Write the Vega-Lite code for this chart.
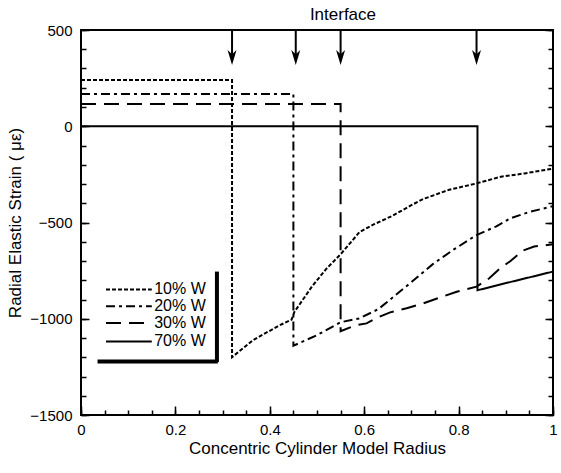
{
  "$schema": "https://vega.github.io/schema/vega-lite/v6.json",
  "width": 472,
  "height": 385,
  "autosize": {"type": "none"},
  "padding": {"left": 81, "top": 30, "right": 8, "bottom": 58},
  "background": "white",
  "config": {
    "view": {"stroke": "#000", "strokeWidth": 2},
    "font": "Liberation Sans",
    "axis": {
      "labelFont": "Liberation Sans", "titleFont": "Liberation Sans",
      "labelFontSize": 15, "titleFontSize": 17, "titleFontWeight": "normal",
      "labelColor": "#000", "titleColor": "#000",
      "domain": false, "grid": false, "labelFlush": false
    }
  },
  "datasets": {
    "curves": [
      {"s": "10% W", "i": 0, "x": 0, "y": 240},
      {"s": "10% W", "i": 1, "x": 0.32, "y": 240},
      {"s": "10% W", "i": 2, "x": 0.32, "y": -1200},
      {"s": "10% W", "i": 3, "x": 0.365, "y": -1110},
      {"s": "10% W", "i": 4, "x": 0.42, "y": -1035},
      {"s": "10% W", "i": 5, "x": 0.446, "y": -1005},
      {"s": "10% W", "i": 6, "x": 0.452, "y": -965},
      {"s": "10% W", "i": 7, "x": 0.49, "y": -830},
      {"s": "10% W", "i": 8, "x": 0.52, "y": -740},
      {"s": "10% W", "i": 9, "x": 0.55, "y": -665},
      {"s": "10% W", "i": 10, "x": 0.59, "y": -550},
      {"s": "10% W", "i": 11, "x": 0.62, "y": -510},
      {"s": "10% W", "i": 12, "x": 0.66, "y": -465},
      {"s": "10% W", "i": 13, "x": 0.7, "y": -410},
      {"s": "10% W", "i": 14, "x": 0.725, "y": -378},
      {"s": "10% W", "i": 15, "x": 0.78, "y": -330},
      {"s": "10% W", "i": 16, "x": 0.838, "y": -297},
      {"s": "10% W", "i": 17, "x": 0.89, "y": -262},
      {"s": "10% W", "i": 18, "x": 0.94, "y": -245},
      {"s": "10% W", "i": 19, "x": 1.0, "y": -220},
      {"s": "20% W", "i": 0, "x": 0, "y": 168},
      {"s": "20% W", "i": 1, "x": 0.45, "y": 168},
      {"s": "20% W", "i": 2, "x": 0.45, "y": -1140},
      {"s": "20% W", "i": 3, "x": 0.5, "y": -1085},
      {"s": "20% W", "i": 4, "x": 0.55, "y": -1018},
      {"s": "20% W", "i": 5, "x": 0.59, "y": -998},
      {"s": "20% W", "i": 6, "x": 0.63, "y": -950},
      {"s": "20% W", "i": 7, "x": 0.655, "y": -900},
      {"s": "20% W", "i": 8, "x": 0.7, "y": -810},
      {"s": "20% W", "i": 9, "x": 0.746, "y": -715},
      {"s": "20% W", "i": 10, "x": 0.79, "y": -640},
      {"s": "20% W", "i": 11, "x": 0.838, "y": -565},
      {"s": "20% W", "i": 12, "x": 0.88, "y": -520},
      {"s": "20% W", "i": 13, "x": 0.91, "y": -478},
      {"s": "20% W", "i": 14, "x": 0.95, "y": -445},
      {"s": "20% W", "i": 15, "x": 1.0, "y": -415},
      {"s": "30% W", "i": 0, "x": 0, "y": 116},
      {"s": "30% W", "i": 1, "x": 0.55, "y": 116},
      {"s": "30% W", "i": 2, "x": 0.55, "y": -1065},
      {"s": "30% W", "i": 3, "x": 0.58, "y": -1035},
      {"s": "30% W", "i": 4, "x": 0.605, "y": -1024},
      {"s": "30% W", "i": 5, "x": 0.627, "y": -995},
      {"s": "30% W", "i": 6, "x": 0.655, "y": -967},
      {"s": "30% W", "i": 7, "x": 0.69, "y": -945},
      {"s": "30% W", "i": 8, "x": 0.725, "y": -920},
      {"s": "30% W", "i": 9, "x": 0.76, "y": -890},
      {"s": "30% W", "i": 10, "x": 0.796, "y": -860},
      {"s": "30% W", "i": 11, "x": 0.838, "y": -833},
      {"s": "30% W", "i": 12, "x": 0.865, "y": -790},
      {"s": "30% W", "i": 13, "x": 0.888, "y": -738},
      {"s": "30% W", "i": 14, "x": 0.91, "y": -700},
      {"s": "30% W", "i": 15, "x": 0.937, "y": -645},
      {"s": "30% W", "i": 16, "x": 0.96, "y": -625},
      {"s": "30% W", "i": 17, "x": 1.0, "y": -613},
      {"s": "70% W", "i": 0, "x": 0, "y": 0},
      {"s": "70% W", "i": 1, "x": 0.84, "y": 0},
      {"s": "70% W", "i": 2, "x": 0.84, "y": -852},
      {"s": "70% W", "i": 3, "x": 0.9, "y": -815},
      {"s": "70% W", "i": 4, "x": 0.95, "y": -785},
      {"s": "70% W", "i": 5, "x": 1.0, "y": -755}
    ],
    "legend": [
      {"s": "10% W", "x1": 0.053, "x2": 0.15, "xt": 0.155, "y": -848},
      {"s": "20% W", "x1": 0.053, "x2": 0.15, "xt": 0.155, "y": -935},
      {"s": "30% W", "x1": 0.053, "x2": 0.15, "xt": 0.155, "y": -1022},
      {"s": "70% W", "x1": 0.053, "x2": 0.15, "xt": 0.155, "y": -1118}
    ],
    "arrows": [
      {"x": 0.32, "top": 500, "bot": 365, "head": 357},
      {"x": 0.455, "top": 500, "bot": 365, "head": 357},
      {"x": 0.55, "top": 500, "bot": 365, "head": 357},
      {"x": 0.838, "top": 500, "bot": 365, "head": 357}
    ],
    "shadow": [
      {"x": 0.288, "x2": 0.288, "y": -755, "y2": -1225},
      {"x": 0.035, "x2": 0.29, "y": -1222, "y2": -1222}
    ],
    "label": [
      {"x": 0.555, "y": 500, "t": "Interface"}
    ]
  },
  "resolve": {"scale": {"x": "independent", "y": "independent"}, "axis": {"x": "independent", "y": "independent"}},
  "layer": [
    {
      "data": {"name": "curves"},
      "mark": {"type": "line", "strokeWidth": 2, "color": "#000", "strokeCap": "butt"},
      "encoding": {
        "x": {"field": "x", "type": "quantitative", "scale": {"domain": [0, 1], "nice": false, "zero": false},
          "axis": {"orient": "bottom", "values": [0, 0.2, 0.4, 0.6, 0.8, 1], "format": "~g",
            "ticks": false, "tickSize": 0, "labelPadding": 7, "title": "Concentric Cylinder Model Radius", "titlePadding": 3}},
        "y": {"field": "y", "type": "quantitative", "scale": {"domain": [-1500, 500], "nice": false, "zero": false},
          "axis": {"orient": "left", "values": [-1500, -1000, -500, 0, 500], "format": "d",
            "ticks": false, "tickSize": 0, "labelPadding": 9, "title": "Radial Elastic Strain ( με)", "titlePadding": 5}},
        "strokeDash": {"field": "s", "type": "nominal", "legend": null,
          "scale": {"domain": ["10% W", "20% W", "30% W", "70% W"], "range": [[4, 2], [9, 4, 3, 4], [15, 8], [1, 0]]}},
        "order": {"field": "i", "type": "quantitative"}
      }
    },
    {
      "data": {"name": "legend"},
      "mark": {"type": "rule", "strokeWidth": 2, "color": "#000", "strokeCap": "butt"},
      "encoding": {
        "x": {"field": "x1", "type": "quantitative", "scale": {"domain": [0, 1], "nice": false, "zero": false},
          "axis": {"orient": "bottom", "offset": -5, "values": [0, 0.05, 0.1, 0.15, 0.2, 0.25, 0.3, 0.35, 0.4, 0.45, 0.5, 0.55, 0.6, 0.65, 0.7, 0.75, 0.8, 0.85, 0.9, 0.95, 1],
            "labels": false, "ticks": true, "tickColor": "#000", "tickWidth": 1.5, "tickOpacity": 1, "tickSize": 5, "title": null}},
        "x2": {"field": "x2"},
        "y": {"field": "y", "type": "quantitative", "scale": {"domain": [-1500, 500], "nice": false, "zero": false},
          "axis": {"orient": "left", "offset": -5, "values": [-1500, -1400, -1300, -1200, -1100, -1000, -900, -800, -700, -600, -500, -400, -300, -200, -100, 0, 100, 200, 300, 400, 500],
            "labels": false, "ticks": true, "tickColor": "#000", "tickWidth": 1.5, "tickOpacity": 1, "tickSize": 5, "title": null}},
        "strokeDash": {"field": "s", "type": "nominal", "legend": null}
      }
    },
    {
      "data": {"name": "legend"},
      "mark": {"type": "text", "align": "left", "baseline": "middle", "fontSize": 16, "font": "Liberation Sans", "color": "#000"},
      "encoding": {
        "x": {"field": "xt", "type": "quantitative", "scale": {"domain": [0, 1], "nice": false, "zero": false},
          "axis": {"orient": "bottom", "offset": -9, "values": [0, 0.2, 0.4, 0.6, 0.8, 1],
            "labels": false, "ticks": true, "tickColor": "#000", "tickWidth": 1.5, "tickOpacity": 1, "tickSize": 9, "title": null}},
        "y": {"field": "y", "type": "quantitative", "scale": {"domain": [-1500, 500], "nice": false, "zero": false},
          "axis": {"orient": "left", "offset": -8, "values": [-1500, -1000, -500, 0, 500],
            "labels": false, "ticks": true, "tickColor": "#000", "tickWidth": 1.5, "tickOpacity": 1, "tickSize": 8, "title": null}},
        "text": {"field": "s"}
      }
    },
    {
      "data": {"name": "arrows"},
      "mark": {"type": "rule", "strokeWidth": 2, "color": "#000"},
      "encoding": {
        "x": {"field": "x", "type": "quantitative", "scale": {"domain": [0, 1], "nice": false, "zero": false}, "axis": null},
        "y": {"field": "top", "type": "quantitative", "scale": {"domain": [-1500, 500], "nice": false, "zero": false},
          "axis": {"orient": "right", "offset": -5, "values": [-1500, -1400, -1300, -1200, -1100, -1000, -900, -800, -700, -600, -500, -400, -300, -200, -100, 0, 100, 200, 300, 400, 500],
            "labels": false, "ticks": true, "tickColor": "#000", "tickWidth": 1.5, "tickOpacity": 1, "tickSize": 5, "title": null}},
        "y2": {"field": "bot"}
      }
    },
    {
      "data": {"name": "arrows"},
      "mark": {"type": "point", "filled": true, "color": "#000", "opacity": 1, "size": 225, "shape": "M-0.6,-1L0,-0.45L0.6,-1L0,1Z"},
      "encoding": {
        "x": {"field": "x", "type": "quantitative", "scale": {"domain": [0, 1], "nice": false, "zero": false}, "axis": null},
        "y": {"field": "head", "type": "quantitative", "scale": {"domain": [-1500, 500], "nice": false, "zero": false},
          "axis": {"orient": "right", "offset": -8, "values": [-1500, -1000, -500, 0, 500],
            "labels": false, "ticks": true, "tickColor": "#000", "tickWidth": 1.5, "tickOpacity": 1, "tickSize": 8, "title": null}}
      }
    },
    {
      "data": {"name": "shadow"},
      "mark": {"type": "rule", "strokeWidth": 4, "color": "#000"},
      "encoding": {
        "x": {"field": "x", "type": "quantitative", "scale": {"domain": [0, 1], "nice": false, "zero": false}, "axis": null},
        "x2": {"field": "x2"},
        "y": {"field": "y", "type": "quantitative", "scale": {"domain": [-1500, 500], "nice": false, "zero": false}, "axis": null},
        "y2": {"field": "y2"}
      }
    },
    {
      "data": {"name": "label"},
      "mark": {"type": "text", "dy": -15, "fontSize": 17, "font": "Liberation Sans", "color": "#000", "baseline": "middle", "align": "center"},
      "encoding": {
        "x": {"field": "x", "type": "quantitative", "scale": {"domain": [0, 1], "nice": false, "zero": false}, "axis": null},
        "y": {"field": "y", "type": "quantitative", "scale": {"domain": [-1500, 500], "nice": false, "zero": false}, "axis": null},
        "text": {"field": "t"}
      }
    }
  ]
}
